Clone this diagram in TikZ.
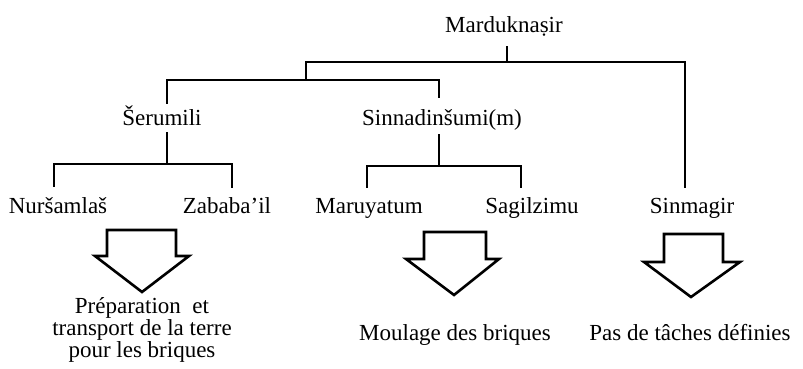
\documentclass[tikz,border=0pt]{standalone}
\usepackage{fontspec}
\setmainfont{Liberation Serif}
\begin{document}
\begin{tikzpicture}[x=1pt,y=-1pt,
  lbl/.style={font=\fontsize{23}{22}\selectfont, inner sep=0pt, anchor=base},
  task/.style={font=\fontsize{23}{22}\selectfont, inner sep=0pt, align=center, anchor=base},
  tree/.style={line width=2.6pt, line cap=rect},
  bigarrow/.style={line width=2.6pt, line join=miter, fill=white}]
\useasboundingbox (0,0) rectangle (803,369);

% names
\node[lbl] (mard) at (504,33) {Marduknaṣir};
\node[lbl] (ser)  at (162,125) {Šerumili};
\node[lbl] (sinn) at (442,125) {Sinnadinšumi(m)};
\node[lbl] (nur)  at (58,213) {Nuršamlaš};
\node[lbl] (zab)  at (227,213) {Zababa’il};
\node[lbl] (mar)  at (369,213) {Maruyatum};
\node[lbl] (sag)  at (532,213) {Sagilzimu};
\node[lbl] (sinm) at (692,213) {Sinmagir};

% task labels
\node[task] (t1) at (142,357) {Préparation\ \ et\\transport de la terre\\pour les briques};
\node[task] (t2) at (455,340) {Moulage des briques};
\node[task] (t3) at (690,340) {Pas de tâches définies};

% connector end points
\coordinate (mardout) at (507,47);
\coordinate (j1) at (507,62);
\coordinate (b1l) at (306,62);
\coordinate (b1r) at (685,62);
\coordinate (sinmin) at (685,187);
\coordinate (b2c) at (306,80);
\coordinate (b2l) at (167,80);
\coordinate (b2r) at (439,80);
\coordinate (serin) at (167,103);
\coordinate (sinnin) at (439,97);
\coordinate (serout) at (167,133);
\coordinate (b3c) at (167,164);
\coordinate (b3l) at (54,164);
\coordinate (b3r) at (232,164);
\coordinate (nurin) at (54,186);
\coordinate (zabin) at (232,187);
\coordinate (sinnout) at (439,135);
\coordinate (b4c) at (439,166);
\coordinate (b4l) at (367,166);
\coordinate (b4r) at (521,166);
\coordinate (marin) at (367,187);
\coordinate (sagin) at (521,187);

% tree connectors
\draw[tree] (mardout) -- (j1);
\draw[tree] (b2c) -- (b1l) -- (b1r) -- (sinmin);
\draw[tree] (serin) -- (b2l) -- (b2r) -- (sinnin);
\draw[tree] (serout) -- (b3c);
\draw[tree] (nurin) -- (b3l) -- (b3r) -- (zabin);
\draw[tree] (sinnout) -- (b4c);
\draw[tree] (marin) -- (b4l) -- (b4r) -- (sagin);

% block arrows
\draw[bigarrow] (107,230) -- (176,230) -- (176,256) -- (189,256) -- (142,292)
  -- (95,256) -- (107,256) -- cycle;
\draw[bigarrow] (424,232) -- (486,232) -- (486,259) -- (499,259) -- (454,295)
  -- (406,259) -- (424,259) -- cycle;
\draw[bigarrow] (664,234) -- (723,234) -- (723,262) -- (740,262) -- (691,297)
  -- (644,262) -- (664,262) -- cycle;
\end{tikzpicture}
\end{document}
